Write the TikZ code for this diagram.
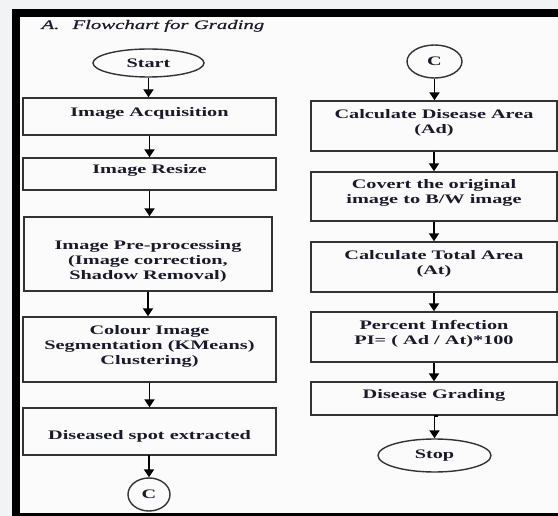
\documentclass[tikz,border=0pt]{standalone}
\usepackage{fontspec}
\setmainfont[FakeStretch=1.56]{Liberation Serif}
\newfontfamily\titlefont[FakeStretch=1.6,FakeBold=0.6]{Liberation Serif}
\usetikzlibrary{arrows.meta,shapes.geometric}
\definecolor{ink}{HTML}{1A1A2A}
\definecolor{boxline}{HTML}{333333}
\definecolor{inner}{HTML}{FBFBFB}
\definecolor{outer}{HTML}{F1F3F5}
\begin{document}
\begin{tikzpicture}[x=1pt,y=-1pt,
  txt/.style={text=ink, align=center, font=\fontsize{13}{15}\selectfont\bfseries},
  box/.style={txt, draw=boxline, line width=1.4pt, fill=inner, inner sep=0pt, text height=9pt, text depth=9.5pt},
  twoline/.style={text height=24pt},
  threeline/.style={text height=39pt},
  term/.style={txt, ellipse, draw=boxline, line width=1.4pt, fill=inner, inner sep=0pt},
  arr/.style={-{Triangle[width=10pt,length=8pt]}, line width=1.8pt, black}]
\useasboundingbox (0,0) rectangle (558,516);
\fill[outer] (0,0) rectangle (558,516);
\fill[black] (12,9) rectangle (558,516);
\fill[inner] (19.5,17) rectangle (558,512.5);
\node[txt, anchor=base west, font=\fontsize{13}{15}\selectfont\titlefont\itshape] (title) at (38,29) {A.\hspace{13pt}Flowchart for Grading};
% left column
\node[term, minimum width=111pt, minimum height=28pt] (start) at (148.5,63) {Start};
\node[box, minimum width=253pt, minimum height=37pt] (b1) at (149.5,116.5) {Image Acquisition};
\node[box, minimum width=253pt, minimum height=32pt] (b2) at (149.5,174) {Image Resize};
\node[box, threeline, minimum width=248pt, minimum height=74pt, text height=61pt] (b3) at (148,254) {Image Pre-processing\\(Image correction,\\Shadow Removal)};
\node[box, threeline, minimum width=253pt, minimum height=65pt] (b4) at (149.5,349.5) {Colour Image\\Segmentation (KMeans)\\Clustering)};
\node[box, minimum width=253pt, minimum height=47pt, text height=24.5pt] (b5) at (149.5,431.5) {Diseased spot extracted};
\node[term, minimum width=42pt, minimum height=33pt] (c1) at (149,494.5) {C};
% right column
\node[term, minimum width=55pt, minimum height=33pt] (c2) at (434.5,61.5) {C};
\node[box, twoline, minimum width=246pt, minimum height=50pt] (r1) at (434,126) {Calculate Disease Area\\(Ad)};
\node[box, twoline, minimum width=246pt, minimum height=49pt] (r2) at (434,196.5) {Covert the original\\image to B/W image};
\node[box, twoline, minimum width=246pt, minimum height=50pt] (r3) at (434,267) {Calculate Total Area\\(At)};
\node[box, twoline, minimum width=246pt, minimum height=50pt] (r4) at (434,337) {Percent Infection\\PI= ( Ad / At)*100};
\node[box, minimum width=246pt, minimum height=33pt] (r5) at (434,398.5) {Disease Grading};
\node[term, minimum width=113pt, minimum height=33pt] (stop) at (434.5,455.5) {Stop};
% connectors
\draw[arr] (start.south) -- (start.south |- b1.north);
\draw[arr] (b1.south) -- (b2.north);
\draw[arr] (b2.south) -- (b2.south |- b3.north);
\draw[arr] (b3.south) -- (b3.south |- b4.north);
\draw[arr] (b4.south) -- (b5.north);
\draw[arr] (b5.south) -- (b5.south -| c1.north) -- (c1.north);
\draw[arr] (c2.south) -- (c2.south |- r1.north);
\draw[arr] (r1.south) -- (r2.north);
\draw[arr] (r2.south) -- (r3.north);
\draw[arr] (r3.south) -- (r4.north);
\draw[arr] (r4.south) -- (r5.north);
\draw[arr, shorten <=4pt] (r5.south) -- (r5.south -| stop.north) -- (stop.north);
\end{tikzpicture}
\end{document}
